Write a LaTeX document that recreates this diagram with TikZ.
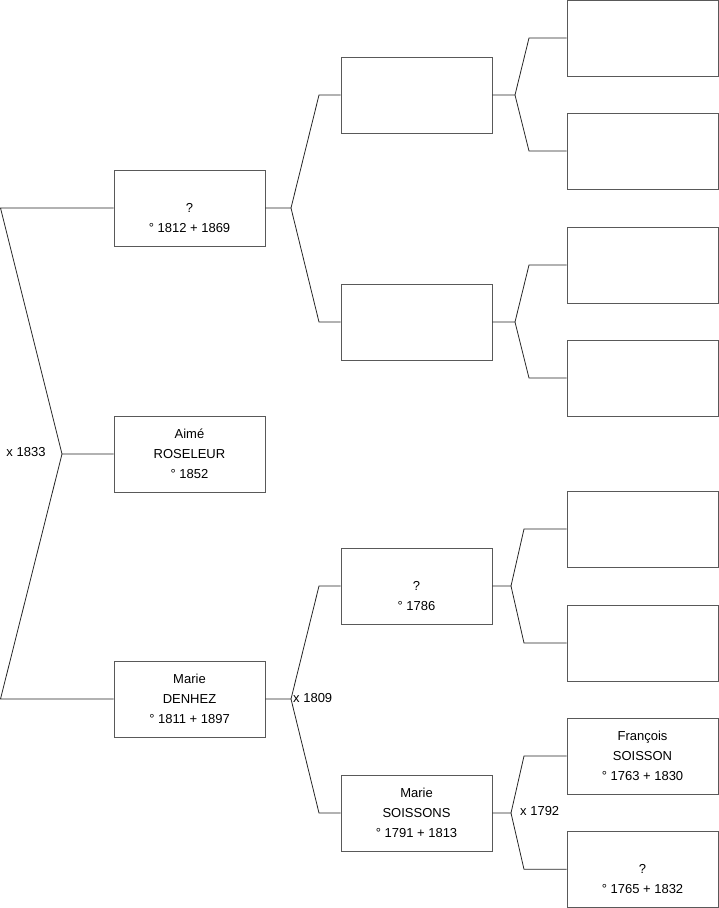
\documentclass[tikz,border=0pt]{standalone}
\usepackage{fontspec}
\setmainfont{Liberation Sans}
\begin{document}
\begin{tikzpicture}[x=1pt,y=-1pt,
  person/.style={draw=black!65, line width=0.9pt, fill=white, minimum width=151pt, minimum height=76pt,
    inner sep=0pt, align=center, font=\fontsize{13}{20}\selectfont},
  conn/.style={draw=black!85, line width=0.8pt},
  lbl/.style={font=\fontsize{13}{15}\selectfont, inner sep=0pt}]
\useasboundingbox (0,0) rectangle (719,908);
% generation 1
\node[person] (A) at (189.5,454) {Aimé\\ROSELEUR\\° 1852};
% generation 2
\node[person] (F) at (189.5,208) {\rule{0pt}{9.5pt}\\?\\° 1812 + 1869};
\node[person] (M) at (189.5,699) {Marie\\DENHEZ\\° 1811 + 1897};
% generation 3
\node[person] (FF) at (416.5,95) {};
\node[person] (FM) at (416.5,322) {};
\node[person] (MF) at (416.5,586) {\rule{0pt}{9.5pt}\\?\\° 1786};
\node[person] (MM) at (416.5,813) {Marie\\SOISSONS\\° 1791 + 1813};
% generation 4
\node[person] (G1) at (642.5,38) {};
\node[person] (G2) at (642.5,151) {};
\node[person] (G3) at (642.5,265) {};
\node[person] (G4) at (642.5,378) {};
\node[person] (G5) at (642.5,529) {};
\node[person] (G6) at (642.5,643) {};
\node[person] (G7) at (642.5,756) {François\\SOISSON\\° 1763 + 1830};
\node[person] (G8) at (642.5,869.3) {\rule{0pt}{9.5pt}\\?\\° 1765 + 1832};
% fork points
\coordinate (k1) at (62,454);
\coordinate (k1a) at (0.5,208);
\coordinate (k1b) at (0.5,699);
\coordinate (kF) at (291,208);
\coordinate (kFa) at (319,95);
\coordinate (kFb) at (319,322);
\coordinate (kM) at (291,699);
\coordinate (kMa) at (319,586);
\coordinate (kMb) at (319,813);
\coordinate (kFF) at (515,95);
\coordinate (kFFa) at (529,38);
\coordinate (kFFb) at (529,151);
\coordinate (kFM) at (515,322);
\coordinate (kFMa) at (529,265);
\coordinate (kFMb) at (529,378);
\coordinate (kMF) at (511,586);
\coordinate (kMFa) at (524,529);
\coordinate (kMFb) at (524,643);
\coordinate (kMM) at (511,813);
\coordinate (kMMa) at (524,756);
\coordinate (kMMb) at (524,869.3);
% connectors
\draw[conn] (A.west) -- (k1) -- (k1a) -- (F.west);
\draw[conn] (k1) -- (k1b) -- (M.west);
\draw[conn] (F.east) -- (kF) -- (kFa) -- (FF.west);
\draw[conn] (kF) -- (kFb) -- (FM.west);
\draw[conn] (M.east) -- (kM) -- (kMa) -- (MF.west);
\draw[conn] (kM) -- (kMb) -- (MM.west);
\draw[conn] (FF.east) -- (kFF) -- (kFFa) -- (G1.west);
\draw[conn] (kFF) -- (kFFb) -- (G2.west);
\draw[conn] (FM.east) -- (kFM) -- (kFMa) -- (G3.west);
\draw[conn] (kFM) -- (kFMb) -- (G4.west);
\draw[conn] (MF.east) -- (kMF) -- (kMFa) -- (G5.west);
\draw[conn] (kMF) -- (kMFb) -- (G6.west);
\draw[conn] (MM.east) -- (kMM) -- (kMMa) -- (G7.west);
\draw[conn] (kMM) -- (kMMb) -- (G8.west);
% marriage labels
\node[lbl] (m1) at (26,452) {x 1833};
\node[lbl, anchor=west] (m2) at (293,698) {x 1809};
\node[lbl, anchor=west] (m3) at (520,811) {x 1792};
\end{tikzpicture}
\end{document}
